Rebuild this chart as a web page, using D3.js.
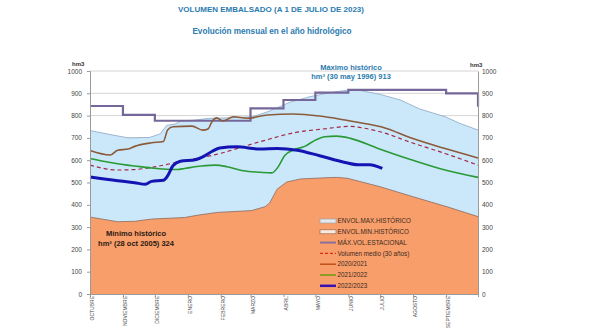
<!DOCTYPE html>
<html>
<head>
<meta charset="utf-8">
<script src="https://cdn.jsdelivr.net/npm/d3@7"></script>
<style>
  body { margin: 0; background: #fff; }
  svg { display: block; font-family: "Liberation Sans Narrow", "Liberation Sans", Arial, sans-serif; }
</style>
</head>
<body>
<div id="chart"></div>
<script>
// day of hydrological year (0 = 1 Oct) -> hm3
const monthNames = ['OCTUBRE', 'NOVIEMBRE', 'DICIEMBRE', 'ENERO', 'FEBRERO', 'MARZO',
  'ABRIL', 'MAYO', 'JUNIO', 'JULIO', 'AGOSTO', 'SEPTIEMBRE'];
const monthStart = [0, 31, 61, 92, 123, 151, 182, 212, 243, 273, 304, 335];
const yTicks = [0, 100, 200, 300, 400, 500, 600, 700, 800, 900, 1000];

const envMax = [[0, 733], [19, 715], [36, 700], [56, 702], [66, 718], [72, 756], [80, 762], [85, 775],
  [99, 780], [113, 788], [132, 790], [153, 795], [169, 820], [188, 860], [207, 885], [226, 903],
  [241, 913], [254, 913], [273, 895], [292, 870], [310, 830], [334, 795], [348, 765], [365, 735]];

const envMin = [[0, 345], [26, 324], [42, 326], [58, 336], [89, 343], [102, 354], [120, 366],
  [152, 374], [165, 392], [169, 408], [176, 470], [185, 502], [198, 516], [216, 520], [232, 523],
  [242, 519], [273, 481], [304, 436], [336, 391], [365, 347]];

const maxEstacional = [[0, 843], [31, 803], [61, 777], [92, 777], [123, 777], [151, 832], [182, 870],
  [212, 903], [243, 915], [273, 915], [304, 915], [335, 900], [365, 840]];

const medio30 = [[0, 578], [26, 556], [42, 558], [58, 568], [89, 598], [118, 625], [160, 683],
  [191, 722], [223, 742], [245, 752], [256, 745], [271, 730], [303, 678], [334, 630], [365, 578]];

const y2020 = [[0, 643], [19, 623], [26, 645], [36, 650], [42, 662], [58, 678], [69, 684], [73, 735],
  [78, 750], [96, 753], [106, 735], [111, 740], [115, 775], [119, 790], [125, 776], [135, 795],
  [148, 788], [167, 803], [191, 807], [216, 798], [240, 780], [261, 762], [276, 747], [303, 698],
  [334, 652], [365, 610]];

const y2021 = [[0, 608], [19, 590], [35, 578], [42, 574], [58, 565], [82, 558], [89, 563], [105, 574],
  [118, 578], [129, 571], [144, 553], [160, 546], [171, 543], [177, 570], [183, 620], [191, 645],
  [202, 662], [212, 690], [221, 705], [232, 708], [245, 698], [271, 653], [303, 601], [334, 556],
  [365, 523]];

const y2022 = [[0, 525], [26, 508], [42, 499], [52, 492], [58, 505], [69, 510], [73, 530], [78, 575],
  [85, 595], [99, 602], [108, 620], [115, 640], [122, 655], [138, 660], [160, 650], [176, 653],
  [195, 645], [216, 620], [240, 590], [252, 580], [263, 580], [275, 563]];

const W = 600, H = 330;
const margin = { top: 71, right: 122, bottom: 36, left: 90 };

const svg = d3.select('#chart').append('svg').attr('width', W).attr('height', H);

const x = d3.scaleLinear().domain([0, 365]).range([margin.left, W - margin.right]);
const y = d3.scaleLinear().domain([0, 1000]).range([H - margin.bottom, margin.top]);

// titles
const teal = '#2b7bb0';
svg.append('text').attr('x', 271).attr('y', 12).attr('text-anchor', 'middle')
  .attr('fill', teal).style('font-weight', 'bold').style('font-size', '8px')
  .text('VOLUMEN EMBALSADO (A 1 DE JULIO DE 2023)');
svg.append('text').attr('x', 272).attr('y', 34).attr('text-anchor', 'middle')
  .attr('fill', teal).style('font-weight', 'bold').style('font-size', '8.2px')
  .text('Evolución mensual en el año hidrológico');

// gridlines
svg.append('g').selectAll('line').data(yTicks).enter().append('line')
  .attr('x1', x(0)).attr('x2', x(365))
  .attr('y1', (d) => y(d)).attr('y2', (d) => y(d))
  .attr('stroke', '#d4d4d4').attr('stroke-width', 1);

const line = d3.line().x((d) => x(d[0])).y((d) => y(d[1]));
const area = d3.area().x((d) => x(d[0])).y0(y(0)).y1((d) => y(d[1]));

// envelopes
svg.append('path').datum(envMax).attr('d', area).attr('fill', '#cae8f9');
svg.append('path').datum(envMax).attr('d', line).attr('fill', 'none')
  .attr('stroke', '#8aa6c4').attr('stroke-width', 0.8);
svg.append('path').datum(envMin).attr('d', area).attr('fill', '#f89e6b');
svg.append('path').datum(envMin).attr('d', line).attr('fill', 'none')
  .attr('stroke', '#8a6a60').attr('stroke-width', 0.8);

// series
svg.append('path').datum(maxEstacional).attr('d', line.curve(d3.curveStepAfter))
  .attr('fill', 'none').attr('stroke', '#75679a').attr('stroke-width', 2.2);
line.curve(d3.curveMonotoneX);
svg.append('path').datum(medio30).attr('d', line).attr('fill', 'none')
  .attr('stroke', '#a3294a').attr('stroke-width', 1.2).attr('stroke-dasharray', '4,3');
svg.append('path').datum(y2020).attr('d', line).attr('fill', 'none')
  .attr('stroke', '#8b5a3a').attr('stroke-width', 1.6);
svg.append('path').datum(y2021).attr('d', line).attr('fill', 'none')
  .attr('stroke', '#2a9a36').attr('stroke-width', 1.6);
svg.append('path').datum(y2022).attr('d', line).attr('fill', 'none')
  .attr('stroke', '#1414b4').attr('stroke-width', 3);

// axes
const axisStyle = (g) => {
  g.selectAll('.domain').attr('stroke', '#9a9a9a');
  g.selectAll('.tick line').attr('stroke', '#9a9a9a');
  g.selectAll('.tick text').attr('fill', '#444').style('font-size', '6.5px')
    .style('font-family', '"Liberation Sans", Arial, sans-serif');
};
svg.append('g').attr('transform', `translate(${x(0)},0)`)
  .call(d3.axisLeft(y).tickValues(yTicks).tickSize(3).tickPadding(5).tickFormat(d3.format('d')))
  .call(axisStyle);
svg.append('g').attr('transform', `translate(${x(365)},0)`)
  .call(d3.axisRight(y).tickValues(yTicks).tickSize(0).tickPadding(4).tickFormat(d3.format('d')))
  .call(axisStyle);
const xAxis = svg.append('g').attr('transform', `translate(0,${y(0)})`)
  .call(d3.axisBottom(x).tickValues(monthStart).tickSize(3).tickFormat((d, i) => monthNames[i]))
  .call(axisStyle);
xAxis.selectAll('.tick text')
  .attr('transform', 'rotate(-90)').attr('text-anchor', 'end')
  .attr('x', -2).attr('y', 2).attr('dy', '0.35em').style('font-size', '5px');

svg.append('text').attr('x', 72).attr('y', 66).style('font-size', '6px').style('font-weight', 'bold')
  .attr('fill', '#333').text('hm3');
svg.append('text').attr('x', 470).attr('y', 67).style('font-size', '6px').style('font-weight', 'bold')
  .attr('fill', '#333').text('hm3');

// annotations
svg.append('text').attr('x', 351).attr('y', 70).attr('text-anchor', 'middle')
  .attr('fill', teal).style('font-weight', 'bold').style('font-size', '7.5px').text('Máximo histórico');
svg.append('text').attr('x', 351).attr('y', 79).attr('text-anchor', 'middle')
  .attr('fill', teal).style('font-weight', 'bold').style('font-size', '7.5px').text('hm³ (30 may 1996) 913');
svg.append('text').attr('x', 136).attr('y', 236).attr('text-anchor', 'middle')
  .attr('fill', '#2a1a10').style('font-weight', 'bold').style('font-size', '7.5px').text('Mínimo histórico');
svg.append('text').attr('x', 136).attr('y', 246).attr('text-anchor', 'middle')
  .attr('fill', '#2a1a10').style('font-weight', 'bold').style('font-size', '7.5px').text('hm³ (28 oct 2005) 324');

// legend
const legendItems = [
  { label: 'ENVOL.MAX.HISTÓRICO', type: 'rect', fill: '#e6e8ee', stroke: '#9aa0aa' },
  { label: 'ENVOL.MIN.HISTÓRICO', type: 'rect', fill: '#fbe9df', stroke: '#9a6a50' },
  { label: 'MÁX.VOL.ESTACIONAL', type: 'line', stroke: '#8a6f9a', width: 2 },
  { label: 'Volumen medio (30 años)', type: 'line', stroke: '#e02a1a', width: 1.2, dash: '3,2' },
  { label: '2020/2021', type: 'line', stroke: '#c0501a', width: 1.5 },
  { label: '2021/2022', type: 'line', stroke: '#6a9a10', width: 1.5 },
  { label: '2022/2023', type: 'line', stroke: '#3a10b0', width: 2.5 }
];
const lg = svg.append('g').attr('transform', 'translate(320,221)');
const row = lg.selectAll('g').data(legendItems).enter().append('g')
  .attr('transform', (d, i) => `translate(0,${i * 10.8})`);
row.filter((d) => d.type === 'rect').append('rect')
  .attr('x', 0).attr('y', -2).attr('width', 16).attr('height', 4)
  .attr('fill', (d) => d.fill).attr('stroke', (d) => d.stroke).attr('stroke-width', 0.7);
row.filter((d) => d.type === 'line').append('line')
  .attr('x1', 0).attr('x2', 16).attr('y1', 0).attr('y2', 0)
  .attr('stroke', (d) => d.stroke).attr('stroke-width', (d) => d.width)
  .attr('stroke-dasharray', (d) => d.dash || null);
row.append('text').attr('x', 17.5).attr('y', 0).attr('dy', '0.35em')
  .attr('fill', '#3a2a20').style('font-size', '6.3px').text((d) => d.label);
</script>
</body>
</html>
